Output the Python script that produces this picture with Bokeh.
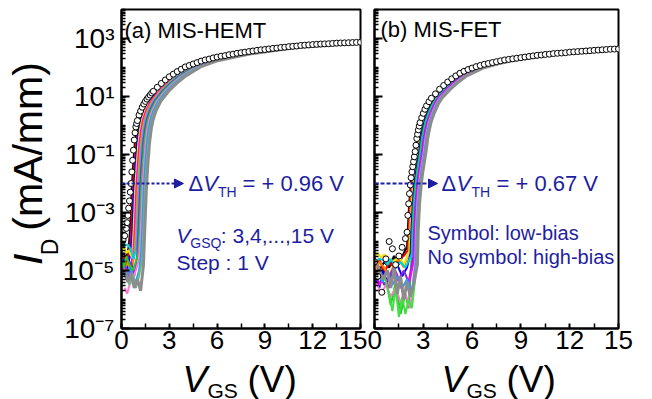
import math
from bokeh.plotting import figure
from bokeh.models import Label, Arrow, NormalHead, FixedTicker, CustomJSTickFormatter
from bokeh.layouts import row, column
from bokeh.embed import file_html
from bokeh.resources import INLINE

FONT = "Liberation Sans"
BLUE = "#1e1ea0"

# ---------------- data (log10 of I_D in mA/mm) ----------------
vgsq = [3, 4, 5, 6, 7, 8, 9, 10, 11, 12, 13, 14, 15]

hemt_low_vgs = [0.0, 0.1, 0.2, 0.3, 0.35, 0.4, 0.45, 0.5, 0.55, 0.6, 0.65, 0.7, 0.75, 0.8, 0.85, 0.9, 0.95, 1.0,
                1.1, 1.2, 1.3, 1.4, 1.5, 1.6, 1.7, 1.8, 1.9, 2.0,
                2.25, 2.5, 2.75, 3.0, 3.25, 3.5, 3.75, 4.0, 4.25, 4.5, 4.75, 5.0, 5.25, 5.5, 5.75, 6.0,
                6.25, 6.5, 6.75, 7.0, 7.25, 7.5, 7.75, 8.0, 8.25, 8.5, 8.75, 9.0, 9.25, 9.5, 9.75, 10.0,
                10.25, 10.5, 10.75, 11.0, 11.25, 11.5, 11.75, 12.0, 12.25, 12.5, 12.75, 13.0, 13.25, 13.5,
                13.75, 14.0, 14.25, 14.5, 14.75, 15.0]
hemt_low_log_id = [-4.1, -3.95, -3.8, -3.55, -3.35, -3.1, -2.85, -2.6, -2.3, -2.0, -1.6, -1.2, -0.85, -0.5, -0.25,
                   -0.05, 0.07, 0.17,
                   0.36, 0.5, 0.63, 0.74, 0.83, 0.91, 0.98, 1.05, 1.12, 1.18,
                   1.32, 1.45, 1.57, 1.68, 1.77, 1.86, 1.94, 2.02, 2.07, 2.12, 2.17, 2.22, 2.26, 2.29, 2.33, 2.36,
                   2.39, 2.41, 2.44, 2.46, 2.49, 2.51, 2.53, 2.55, 2.57, 2.59, 2.61, 2.62, 2.64, 2.66, 2.67, 2.69,
                   2.70, 2.72, 2.73, 2.74, 2.76, 2.77, 2.78, 2.79, 2.80, 2.81, 2.815, 2.82, 2.83, 2.84,
                   2.845, 2.85, 2.855, 2.86, 2.865, 2.87]

hemt_levels = [-3.6, -2.2, -1.3, -0.6, -0.15, 0.15, 0.5, 0.83, 1.18, 1.45, 1.68, 2.02, 2.22, 2.46, 2.69, 2.87]
hemt_rise_vgs = [
    [0.54, 0.64, 0.74, 0.84, 0.94, 1.04, 1.24, 1.54, 2.04, 2.54, 3.04, 4.04, 5.04, 7.04, 10.04, 15.04],
    [0.61, 0.71, 0.81, 0.91, 1.01, 1.11, 1.31, 1.61, 2.11, 2.61, 3.11, 4.11, 5.11, 7.11, 10.11, 15.11],
    [0.68, 0.78, 0.88, 0.98, 1.08, 1.18, 1.38, 1.68, 2.18, 2.68, 3.18, 4.18, 5.18, 7.18, 10.18, 15.18],
    [0.76, 0.86, 0.96, 1.06, 1.16, 1.26, 1.46, 1.76, 2.26, 2.76, 3.26, 4.26, 5.26, 7.26, 10.26, 15.26],
    [0.83, 0.93, 1.03, 1.13, 1.23, 1.33, 1.53, 1.83, 2.33, 2.83, 3.33, 4.33, 5.33, 7.33, 10.33, 15.33],
    [0.91, 1.01, 1.11, 1.21, 1.31, 1.41, 1.61, 1.91, 2.41, 2.91, 3.41, 4.41, 5.41, 7.41, 10.41, 15.41],
    [0.99, 1.09, 1.19, 1.29, 1.39, 1.49, 1.69, 1.99, 2.49, 2.99, 3.49, 4.49, 5.49, 7.49, 10.49, 15.49],
    [1.06, 1.16, 1.26, 1.36, 1.46, 1.56, 1.76, 2.06, 2.56, 3.06, 3.56, 4.56, 5.56, 7.56, 10.56, 15.56],
    [1.14, 1.24, 1.34, 1.44, 1.54, 1.64, 1.84, 2.14, 2.64, 3.14, 3.64, 4.64, 5.64, 7.64, 10.64, 15.64],
    [1.22, 1.32, 1.42, 1.52, 1.62, 1.72, 1.92, 2.22, 2.72, 3.22, 3.72, 4.72, 5.72, 7.72, 10.72, 15.72],
    [1.30, 1.40, 1.50, 1.60, 1.70, 1.80, 2.00, 2.30, 2.80, 3.30, 3.80, 4.80, 5.80, 7.80, 10.80, 15.80],
    [1.38, 1.48, 1.58, 1.68, 1.78, 1.88, 2.08, 2.38, 2.88, 3.38, 3.88, 4.88, 5.88, 7.88, 10.88, 15.88],
    [1.46, 1.56, 1.66, 1.76, 1.86, 1.96, 2.16, 2.46, 2.96, 3.46, 3.96, 4.96, 5.96, 7.96, 10.96, 15.96],
]
hemt_floor_vgs = [
    [0.0, 0.15, 0.3, 0.45],
    [0.0, 0.15, 0.3, 0.45, 0.55],
    [0.0, 0.15, 0.3, 0.45, 0.6],
    [0.0, 0.15, 0.3, 0.45, 0.6, 0.7],
    [0.0, 0.2, 0.4, 0.55, 0.75],
    [0.0, 0.2, 0.4, 0.6, 0.8],
    [0.0, 0.2, 0.4, 0.6, 0.75, 0.9],
    [0.0, 0.2, 0.4, 0.6, 0.8, 0.98],
    [0.0, 0.15, 0.3, 0.5, 0.7, 0.9, 1.06],
    [0.2, 0.35, 0.5, 0.7, 0.9, 1.1],
    [0.1, 0.3, 0.5, 0.7, 0.9, 1.1, 1.22],
    [0.3, 0.5, 0.7, 0.9, 1.1, 1.3],
    [0.2, 0.4, 0.6, 0.8, 1.0, 1.2, 1.38],
]
hemt_floor_log_id = [
    [-4.5, -4.4, -4.6, -4.2],
    [-4.7, -4.5, -4.8, -4.4, -4.1],
    [-4.9, -4.6, -5.0, -4.7, -4.3],
    [-4.3, -4.2, -4.4, -4.3, -4.5, -4.2],
    [-5.2, -4.8, -5.3, -4.9, -4.4],
    [-4.8, -5.0, -4.7, -5.1, -4.5],
    [-4.1, -4.15, -4.1, -4.3, -4.6, -4.3],
    [-5.0, -4.8, -5.1, -4.7, -5.2, -4.5],
    [-4.6, -4.9, -4.5, -4.8, -5.0, -4.7, -4.4],
    [-5.6, -5.8, -5.5, -5.3, -5.0, -4.6],
    [-5.0, -5.3, -4.9, -5.2, -5.4, -5.0, -4.5],
    [-5.2, -5.5, -5.1, -5.6, -5.2, -4.6],
    [-5.0, -5.4, -5.1, -5.6, -5.3, -5.7, -4.8],
]

fet_low_vgs = [0.0, 0.2, 0.45, 0.7, 0.9, 1.1, 1.3, 1.5, 1.7, 1.9,
               2.0, 2.05, 2.1, 2.15, 2.2, 2.25, 2.3, 2.35, 2.4, 2.45,
               2.5, 2.55, 2.6, 2.65, 2.7, 2.75, 2.8, 2.9, 3.0, 3.1,
               3.2, 3.35, 3.5, 3.75, 4.0, 4.25, 4.5, 4.75, 5.0,
               5.25, 5.5, 5.75, 6.0, 6.25, 6.5, 6.75, 7.0, 7.25, 7.5, 7.75, 8.0, 8.25, 8.5, 8.75, 9.0,
               9.25, 9.5, 9.75, 10.0, 10.25, 10.5, 10.75, 11.0, 11.25, 11.5, 11.75, 12.0, 12.25, 12.5,
               12.75, 13.0, 13.25, 13.5, 13.75, 14.0, 14.25, 14.5, 14.75, 15.0]
fet_low_log_id = [-4.7, -5.2, -5.75, -4.6, -4.0, -4.25, -4.8, -4.5, -4.2, -3.9,
                  -3.68, -3.1, -2.7, -2.35, -2.05, -1.8, -1.6, -1.42, -1.25, -1.08,
                  -0.9, -0.68, -0.45, -0.3, -0.15, -0.02, 0.1, 0.27, 0.42, 0.56,
                  0.68, 0.82, 0.94, 1.09, 1.25, 1.38, 1.50, 1.61, 1.71,
                  1.80, 1.87, 1.93, 1.98, 2.03, 2.07, 2.11, 2.14, 2.17, 2.20, 2.23, 2.26, 2.28, 2.30, 2.32, 2.34,
                  2.36, 2.38, 2.40, 2.42, 2.43, 2.45, 2.46, 2.48, 2.49, 2.50, 2.51, 2.53, 2.54, 2.55,
                  2.56, 2.57, 2.58, 2.59, 2.60, 2.61, 2.62, 2.63, 2.635, 2.64]

fet_levels = [-3.6, -2.7, -2.05, -1.6, -1.25, -0.9, -0.45, -0.15, 0.1, 0.42, 0.74, 0.96, 1.25, 1.50, 1.71,
              1.98, 2.14, 2.26, 2.42, 2.53, 2.64]
fet_rise_vgs = [
    [2.05, 2.13, 2.23, 2.33, 2.43, 2.53, 2.63, 2.73, 2.83, 3.03, 3.28, 3.53, 4.03, 4.53, 5.03, 6.03, 7.03, 8.03, 10.03, 12.03, 15.03],
    [2.10, 2.18, 2.28, 2.38, 2.48, 2.58, 2.68, 2.78, 2.88, 3.08, 3.33, 3.58, 4.08, 4.58, 5.08, 6.08, 7.08, 8.08, 10.08, 12.08, 15.08],
    [2.16, 2.24, 2.34, 2.44, 2.54, 2.64, 2.74, 2.84, 2.94, 3.14, 3.39, 3.64, 4.14, 4.64, 5.14, 6.14, 7.14, 8.14, 10.14, 12.14, 15.14],
    [2.22, 2.30, 2.40, 2.50, 2.60, 2.70, 2.80, 2.90, 3.00, 3.20, 3.45, 3.70, 4.20, 4.70, 5.20, 6.20, 7.20, 8.20, 10.20, 12.20, 15.20],
    [2.27, 2.35, 2.45, 2.55, 2.65, 2.75, 2.85, 2.95, 3.05, 3.25, 3.50, 3.75, 4.25, 4.75, 5.25, 6.25, 7.25, 8.25, 10.25, 12.25, 15.25],
    [2.33, 2.41, 2.51, 2.61, 2.71, 2.81, 2.91, 3.01, 3.11, 3.31, 3.56, 3.81, 4.31, 4.81, 5.31, 6.31, 7.31, 8.31, 10.31, 12.31, 15.31],
    [2.39, 2.47, 2.57, 2.67, 2.77, 2.87, 2.97, 3.07, 3.17, 3.37, 3.62, 3.87, 4.37, 4.87, 5.37, 6.37, 7.37, 8.37, 10.37, 12.37, 15.37],
    [2.44, 2.52, 2.62, 2.72, 2.82, 2.92, 3.02, 3.12, 3.22, 3.42, 3.67, 3.92, 4.42, 4.92, 5.42, 6.42, 7.42, 8.42, 10.42, 12.42, 15.42],
    [2.50, 2.58, 2.68, 2.78, 2.88, 2.98, 3.08, 3.18, 3.28, 3.48, 3.73, 3.98, 4.48, 4.98, 5.48, 6.48, 7.48, 8.48, 10.48, 12.48, 15.48],
    [2.55, 2.63, 2.73, 2.83, 2.93, 3.03, 3.13, 3.23, 3.33, 3.53, 3.78, 4.03, 4.53, 5.03, 5.53, 6.53, 7.53, 8.53, 10.53, 12.53, 15.53],
    [2.60, 2.68, 2.78, 2.88, 2.98, 3.08, 3.18, 3.28, 3.38, 3.58, 3.83, 4.08, 4.58, 5.08, 5.58, 6.58, 7.58, 8.58, 10.58, 12.58, 15.58],
    [2.65, 2.73, 2.83, 2.93, 3.03, 3.13, 3.23, 3.33, 3.43, 3.63, 3.88, 4.13, 4.63, 5.13, 5.63, 6.63, 7.63, 8.63, 10.63, 12.63, 15.63],
    [2.69, 2.77, 2.87, 2.97, 3.07, 3.17, 3.27, 3.37, 3.47, 3.67, 3.92, 4.17, 4.67, 5.17, 5.67, 6.67, 7.67, 8.67, 10.67, 12.67, 15.67],
]
fet_floor_vgs = [
    [0.0, 0.3, 0.6, 0.9, 1.2, 1.5, 1.8, 2.0],
    [0.0, 0.3, 0.6, 0.9, 1.2, 1.5, 1.8, 2.05],
    [0.0, 0.3, 0.6, 0.9, 1.2, 1.5, 1.8, 2.1],
    [0.0, 0.2, 0.4, 0.6, 0.9, 1.2, 1.5, 1.8, 2.17],
    [0.0, 0.3, 0.5, 0.8, 1.1, 1.4, 1.7, 2.0, 2.22],
    [0.0, 0.4, 0.8, 1.0, 1.3, 1.6, 1.9, 2.1, 2.28],
    [0.0, 0.3, 0.6, 0.8, 1.0, 1.3, 1.6, 1.9, 2.34],
    [0.0, 0.3, 0.6, 0.9, 1.2, 1.5, 1.8, 2.1, 2.39],
    [0.0, 0.3, 0.6, 0.9, 1.2, 1.5, 1.8, 2.1, 2.45],
    [0.1, 0.4, 0.7, 1.0, 1.3, 1.6, 1.9, 2.2, 2.5],
    [0.2, 0.5, 0.8, 1.1, 1.4, 1.7, 2.0, 2.3, 2.55],
    [0.6, 0.9, 1.1, 1.3, 1.5, 1.7, 1.9, 2.1, 2.3, 2.6],
    [0.2, 0.5, 0.8, 1.0, 1.2, 1.4, 1.6, 1.8, 2.0, 2.2, 2.4, 2.64],
]
fet_floor_log_id = [
    [-4.6, -5.0, -4.7, -4.9, -4.5, -4.8, -4.4, -4.2],
    [-4.8, -4.6, -5.1, -4.7, -4.9, -4.6, -4.5, -4.3],
    [-5.0, -4.7, -4.9, -5.2, -4.8, -4.6, -4.9, -4.4],
    [-4.5, -4.4, -4.55, -4.45, -4.6, -4.7, -4.5, -4.8, -4.3],
    [-5.2, -5.6, -5.0, -5.4, -5.1, -4.8, -5.2, -4.9, -4.4],
    [-5.0, -5.3, -5.6, -6.2, -5.4, -6.5, -5.8, -6.3, -4.5],
    [-4.7, -4.6, -4.65, -4.8, -4.6, -4.9, -4.7, -4.9, -4.4],
    [-5.3, -5.1, -5.5, -5.2, -4.9, -5.3, -5.0, -5.4, -4.5],
    [-5.0, -5.5, -5.2, -5.6, -5.0, -5.4, -5.8, -5.5, -4.6],
    [-5.4, -5.8, -5.5, -5.9, -5.6, -6.1, -5.8, -6.3, -4.7],
    [-5.1, -5.4, -5.0, -5.5, -5.2, -5.6, -5.3, -5.7, -4.7],
    [-5.2, -5.8, -6.4, -5.6, -6.6, -5.9, -6.5, -6.0, -6.3, -4.8],
    [-4.8, -5.3, -5.0, -5.6, -4.9, -5.8, -5.2, -6.0, -5.4, -5.9, -5.5, -4.8],
]

x_ticks = [0, 3, 6, 9, 12, 15]
x_minor = [1.5, 4.5, 7.5, 10.5, 13.5]
y_major = [1e-7, 1e-5, 1e-3, 1e-1, 1e1, 1e3]

# ---------------- styles ----------------
pal_a = ["black", "red", "blue", "#f2e600", "#ff00ff", "#ff8c00", "#00d0e0",
         "#8a2be2", "#22cc22", "#ff77dd", "#2a9df4", "#66bb88", "#8c8c8c"]
pal_b = ["black", "red", "#ff8000", "#f2e600", "blue", "#22cc22", "#00d0e0",
         "#8a2be2", "#ff00ff", "#ff77dd", "#2a9df4", "#44dd44", "#8c8c8c"]

YLAB_W = 59
TOP_H = 362
FB = 328
DEC = 319 / 11.0
BASE_SHIFT = 0.33   # rendered baseline sits this many em below the anchor

y_minor = []
for e in range(-8, 5):
    for m in range(1, 10):
        v = m * 10.0 ** e
        if v not in y_major:
            y_minor.append(v)

Y_FMT = CustomJSTickFormatter(code="""
const sup = {"-":"\u207b","0":"\u2070","1":"\u00b9","2":"\u00b2","3":"\u00b3","4":"\u2074",
             "5":"\u2075","6":"\u2076","7":"\u2077","8":"\u2078","9":"\u2079"};
const e = Math.round(Math.log10(tick)).toString();
return "10" + e.split("").map(c => sup[c]).join("");
""")


def make_fig(width, left, right, ylabels):
    p = figure(width=width, height=TOP_H, x_range=(0, 15), y_range=(1e-7, 1e4), y_axis_type="log",
               title=None, toolbar_location=None, output_backend="svg",
               min_border_left=left, min_border_right=right, min_border_top=9,
               min_border_bottom=TOP_H - 9 - 319)
    p.grid.visible = False
    p.outline_line_color = "black"
    p.outline_line_width = 2
    p.background_fill_color = "white"
    p.border_fill_color = "white"
    for ax in (p.xaxis[0], p.yaxis[0]):
        ax.axis_line_width = 2
        ax.major_tick_line_width = 2
        ax.minor_tick_line_width = 1.5
        ax.major_tick_out = 0
        ax.minor_tick_out = 0
        ax.major_label_text_font = FONT
        ax.major_label_text_color = "black"
        ax.axis_label = None
    p.xaxis.major_tick_in = 5
    p.xaxis.minor_tick_in = 5
    p.yaxis.major_tick_in = 8
    p.yaxis.minor_tick_in = 4
    p.xaxis.ticker = FixedTicker(ticks=x_ticks, minor_ticks=x_minor)
    p.yaxis.ticker = FixedTicker(ticks=y_major, minor_ticks=y_minor)
    p.xaxis.formatter = CustomJSTickFormatter(code="return tick.toFixed(0);")
    p.xaxis.major_label_text_font_size = "26px"
    p.xaxis.major_label_text_line_height = 1.0
    p.xaxis.major_label_standoff = 2
    if ylabels:
        p.yaxis.formatter = Y_FMT
        p.yaxis.major_label_text_font_size = "28px"
        p.yaxis.major_label_standoff = 7
    else:
        p.yaxis.formatter = CustomJSTickFormatter(code="return '';")
        p.yaxis.major_label_standoff = 0
    return p


def text_fig(width, height):
    f = figure(width=width, height=height, x_range=(0, width), y_range=(0, height), title=None,
               toolbar_location=None, output_backend="svg", x_axis_location=None, y_axis_location=None,
               min_border=0, min_border_left=0, min_border_right=0, min_border_top=0, min_border_bottom=0)
    f.grid.visible = False
    f.outline_line_color = None
    f.background_fill_color = "white"
    f.border_fill_color = "white"
    return f


def put(p, fl, ppv, px, py, text, size, color="black", style="normal"):
    # px, py: page position of the text's left baseline point
    ya = py - BASE_SHIFT * size
    x = (px - fl) / ppv
    y = 10 ** ((FB - ya) / DEC - 7)
    p.add_layout(Label(x=x, y=y, text=text, text_font=FONT, text_font_size=f"{size}px",
                       text_font_style=style, text_color=color, text_align="left",
                       text_baseline="alphabetic"))


def put_px(f, x0, y0, px, py, text, size, style="normal", rotated=False):
    h = f.height
    if rotated:
        px = px - BASE_SHIFT * size
    else:
        py = py - BASE_SHIFT * size
    f.add_layout(Label(x=px - x0, y=h - (py - y0), text=text, text_font=FONT, text_font_size=f"{size}px",
                       text_font_style=style, text_color="black", text_align="left",
                       text_baseline="alphabetic", angle=math.pi / 2 if rotated else 0.0))


def draw_panel(p, low_v, low_l, levels, rise_v, floor_v, floor_l, pal):
    for k in range(len(rise_v)):
        xs = floor_v[k] + rise_v[k]
        ys = [10 ** v for v in floor_l[k] + levels]
        p.line(xs, ys, line_color=pal[k], line_width=3 if k == len(rise_v) - 1 else 2)
    p.scatter(low_v, [10 ** v for v in low_l], marker="circle", size=6,
              fill_color="white", line_color="black", line_width=1)


W1 = 367 - YLAB_W
p1 = make_fig(W1, 117 - YLAB_W, 7, True)
p2 = make_fig(285, 7, 34, False)

draw_panel(p1, hemt_low_vgs, hemt_low_log_id, hemt_levels, hemt_rise_vgs, hemt_floor_vgs, hemt_floor_log_id, pal_a)
draw_panel(p2, fet_low_vgs, fet_low_log_id, fet_levels, fet_rise_vgs, fet_floor_vgs, fet_floor_log_id, pal_b)

FL1, PPV1 = 117, 243 / 15.0
FL2, PPV2 = 374, 244 / 15.0

p1.add_layout(Arrow(end=NormalHead(size=9, fill_color=BLUE, line_color=BLUE), x_start=0.0, y_start=1e-2,
                    x_end=(180 - FL1) / PPV1, y_end=1e-2, line_color=BLUE, line_width=2, line_dash="3 2"))
p2.add_layout(Arrow(end=NormalHead(size=9, fill_color=BLUE, line_color=BLUE), x_start=0.0, y_start=1e-2,
                    x_end=(437 - FL2) / PPV2, y_end=1e-2, line_color=BLUE, line_width=2, line_dash="4 2"))

put(p1, FL1, PPV1, 120, 37, "(a) MIS-HEMT", 22)
put(p1, FL1, PPV1, 185, 190, "\u0394", 22, BLUE)
put(p1, FL1, PPV1, 200, 190, "V", 22, BLUE, "italic")
put(p1, FL1, PPV1, 215, 196, "TH", 14, BLUE)
put(p1, FL1, PPV1, 240, 190, "= + 0.96 V", 22, BLUE)
put(p1, FL1, PPV1, 173, 242, "V", 21, BLUE, "italic")
put(p1, FL1, PPV1, 187, 247, "GSQ", 14, BLUE)
put(p1, FL1, PPV1, 218, 242, ": 3,4,...,15 V", 21, BLUE)
put(p1, FL1, PPV1, 173, 269, "Step : 1 V", 21, BLUE)

put(p2, FL2, PPV2, 380, 36, "(b) MIS-FET", 22)
put(p2, FL2, PPV2, 441, 190, "\u0394", 22, BLUE)
put(p2, FL2, PPV2, 456, 190, "V", 22, BLUE, "italic")
put(p2, FL2, PPV2, 471, 196, "TH", 14, BLUE)
put(p2, FL2, PPV2, 496, 190, "= + 0.67 V", 22, BLUE)
put(p2, FL2, PPV2, 427, 239, "Symbol: low-bias", 20, BLUE)
put(p2, FL2, PPV2, 427, 263, "No symbol: high-bias", 20, BLUE)

# y title strip (left of panel a), rotated text
ylab = text_fig(YLAB_W, TOP_H)
put_px(ylab, 0, 0, 41, 290, "I", 41, "italic", rotated=True)
put_px(ylab, 0, 0, 57, 279, "D", 23, "normal", rotated=True)
put_px(ylab, 0, 0, 41, 251, "(mA/mm)", 41, "normal", rotated=True)

# x title strip (below both panels)
XL_H = 399 - TOP_H
xs_fig = text_fig(652, XL_H)
put_px(xs_fig, 0, TOP_H, 182, 391, "V", 37, "italic")
put_px(xs_fig, 0, TOP_H, 207, 397, "GS", 21)
put_px(xs_fig, 0, TOP_H, 247, 391, "(V)", 37)
put_px(xs_fig, 0, TOP_H, 441, 391, "V", 37, "italic")
put_px(xs_fig, 0, TOP_H, 466, 397, "GS", 21)
put_px(xs_fig, 0, TOP_H, 506, 391, "(V)", 37)

layout = column(row(ylab, p1, p2), xs_fig)
with open("out.html", "w", encoding="utf-8") as f:
    f.write(file_html(layout, INLINE))
